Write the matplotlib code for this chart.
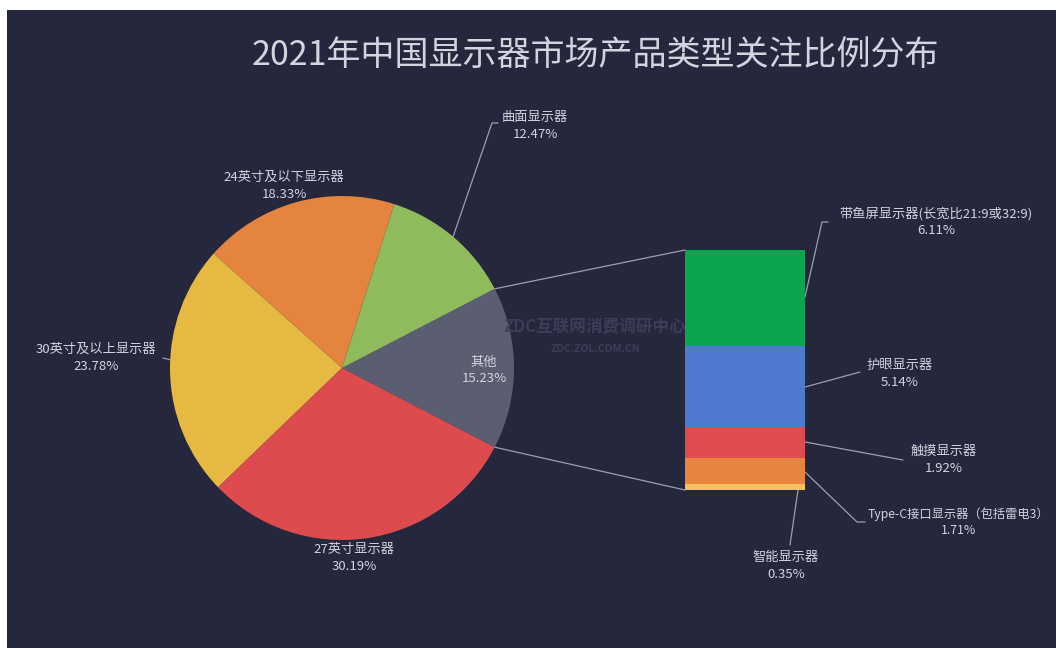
import numpy as np
import matplotlib.pyplot as plt
from matplotlib.patches import ConnectionPatch, Rectangle

plt.rcParams['font.family'] = ['Noto Sans CJK SC', 'DejaVu Sans']

# main pie: share of attention by display type (%)
pie_labels = ['其他', '曲面显示器', '24英寸及以下显示器', '30英寸及以上显示器', '27英寸显示器']
pie_values = [15.23, 12.47, 18.33, 23.78, 30.19]
pie_colors = ['#5b5d71', '#8fbb5c', '#e5843f', '#e5b942', '#dd4b4f']

# breakdown of "其他"
bar_labels = ['带鱼屏显示器(长宽比21:9或32:9)', '护眼显示器', '触摸显示器',
              'Type-C接口显示器（包括雷电3）', '智能显示器']
bar_values = [6.11, 5.14, 1.92, 1.71, 0.35]
bar_colors = ['#0aa54d', '#4f79cf', '#e04b50', '#e8843f', '#f1c25e']

W, H = 1056, 648
BG = '#25273d'
TXT = '#d3d4de'
LINE = '#9d9fb1'

fig = plt.figure(figsize=(W / 100, H / 100), dpi=100, facecolor='white')
ax1 = fig.add_axes([0, 0, 1, 1])

def fy(y):
    # pixel rows counted from the top
    return H - y

cx, cy, r = 342, fy(368), 172
start = -pie_values[0] / 100 * 360 / 2
wedges, _ = ax1.pie(pie_values, colors=pie_colors, startangle=start,
                    center=(cx, cy), radius=r, counterclock=True,
                    wedgeprops=dict(linewidth=0))
ax1.add_patch(Rectangle((7, 0), W - 7, H - 10, facecolor=BG, edgecolor='none', zorder=-5))
ax1.set_xlim(0, W)
ax1.set_ylim(0, H)
ax1.set_aspect('equal', adjustable='box')
ax1.axis('off')

ax1.text(595, fy(55), '2021年中国显示器市场产品类型关注比例分布', ha='center', va='center',
         color=TXT, fontsize=24.5)

# watermark, drawn above both axes
fig.text(595 / W, fy(327) / H, 'ZDC互联网消费调研中心', ha='center', va='center',
         color='#3e4159', fontsize=12, fontweight='bold', alpha=0.9)
fig.text(595 / W, fy(349) / H, 'ZDC.ZOL.COM.CN', ha='center', va='center',
         color='#3e4159', fontsize=7.5, fontweight='bold', alpha=0.9)

fs = 9.5

def label(x, y1, name, val, ha='center', size=fs):
    ax1.text(x, fy(y1), name, ha=ha, va='center', color=TXT, fontsize=size)
    ax1.text(x, fy(y1 + 17), f'{val:.2f}%', ha=ha, va='center', color=TXT, fontsize=size)

def leader(pts):
    xs = [p[0] for p in pts]
    ys = [fy(p[1]) for p in pts]
    ax1.plot(xs, ys, color=LINE, lw=0.9, solid_capstyle='round')

# pie labels
label(484, 362, pie_labels[0], pie_values[0])
label(535, 117, pie_labels[1], pie_values[1])
leader([(453, 237), (492, 123), (498, 123)])
label(284, 177, pie_labels[2], pie_values[2])
label(96, 349, pie_labels[3], pie_values[3])
leader([(171, 360), (163, 358)])
label(354, 549, pie_labels[4], pie_values[4])

# stacked bar for the "其他" slice
ax2 = fig.add_axes([685 / W, fy(490) / H, 120 / W, 240 / H])
total = sum(bar_values)
bottom = total
for v, c in zip(bar_values, bar_colors):
    bottom -= v
    ax2.bar(0.5, v, width=1, bottom=bottom, color=c, linewidth=0)
ax2.set_xlim(0, 1)
ax2.set_ylim(0, total)
ax2.axis('off')

# lines from the pie slice edges to the bar corners
theta1, theta2 = wedges[0].theta1, wedges[0].theta2
for theta, ybar in [(theta2, total), (theta1, 0)]:
    px = cx + r * np.cos(np.radians(theta))
    py = cy + r * np.sin(np.radians(theta))
    con = ConnectionPatch(xyA=(0, ybar), coordsA=ax2.transData,
                          xyB=(px, py), coordsB=ax1.transData,
                          color=LINE, lw=0.9)
    fig.add_artist(con)

# bar labels
label(936, 214, bar_labels[0], bar_values[0])
leader([(805, 297), (822, 222), (828, 222)])
label(900, 365, bar_labels[1], bar_values[1])
leader([(805, 387), (860, 372)])
label(944, 451, bar_labels[2], bar_values[2])
leader([(805, 442), (903, 460)])
label(958, 514, bar_labels[3], bar_values[3], size=8.8)
leader([(805, 472), (857, 522), (865, 522)])
label(786, 557, bar_labels[4], bar_values[4])
leader([(798, 490), (790, 545)])

fig.savefig('out.png', dpi=100, facecolor=fig.get_facecolor())
